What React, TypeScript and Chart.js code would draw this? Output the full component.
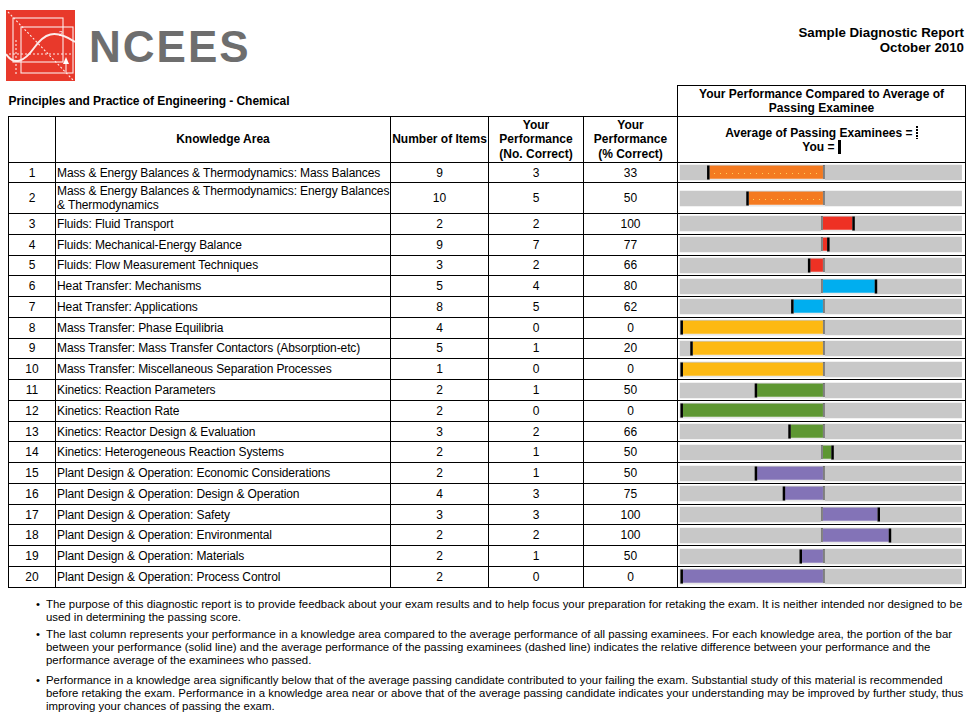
import React, { useEffect, useRef } from 'react';
import { Chart, registerables } from 'chart.js';

Chart.register(...registerables);

// ---------------- data ----------------
const ROW_NUMBERS = [1, 2, 3, 4, 5, 6, 7, 8, 9, 10, 11, 12, 13, 14, 15, 16, 17, 18, 19, 20];
const KNOWLEDGE_AREAS = [
  'Mass & Energy Balances & Thermodynamics: Mass Balances',
  'Mass & Energy Balances & Thermodynamics: Energy Balances\n& Thermodynamics',
  'Fluids: Fluid Transport',
  'Fluids: Mechanical-Energy Balance',
  'Fluids: Flow Measurement Techniques',
  'Heat Transfer: Mechanisms',
  'Heat Transfer: Applications',
  'Mass Transfer: Phase Equilibria',
  'Mass Transfer: Mass Transfer Contactors (Absorption-etc)',
  'Mass Transfer: Miscellaneous Separation Processes',
  'Kinetics: Reaction Parameters',
  'Kinetics: Reaction Rate',
  'Kinetics: Reactor Design & Evaluation',
  'Kinetics: Heterogeneous Reaction Systems',
  'Plant Design & Operation: Economic Considerations',
  'Plant Design & Operation: Design & Operation',
  'Plant Design & Operation: Safety',
  'Plant Design & Operation: Environmental',
  'Plant Design & Operation: Materials',
  'Plant Design & Operation: Process Control',
];
const NUMBER_OF_ITEMS = [9, 10, 2, 9, 3, 5, 8, 4, 5, 1, 2, 2, 3, 2, 2, 4, 3, 2, 2, 2];
const NUMBER_CORRECT = [3, 5, 2, 7, 2, 4, 5, 0, 1, 0, 1, 0, 2, 1, 1, 3, 3, 2, 1, 0];
const PERCENT_CORRECT = [33, 50, 100, 77, 66, 80, 62, 0, 20, 0, 50, 0, 66, 50, 50, 75, 100, 100, 50, 0];
// relative difference of your performance vs. average of passing examinees (average = 0)
const RELATIVE_DIFFERENCE = [-81, -53, 21, 3, -9, 37, -21, -100, -93, -100, -47, -100, -23, 6, -47, -27, 39, 47, -15, -100];
const AREA_GROUP = [0, 0, 1, 1, 1, 2, 2, 3, 3, 3, 4, 4, 4, 4, 5, 5, 5, 5, 5, 5];
const GROUP_COLORS = ['#F47A20', '#EE3124', '#00AEEF', '#FDB913', '#5E9732', '#8373B7'];
const GROUP_DOTTED = [true, false, false, false, false, false];
const AVERAGE_VALUE = 0;
const SCALE_MIN = -103.5;
const SCALE_MAX = 100;
const TRACK_RANGE: [number, number] = [-102, 99];

const FOOTNOTES = [
  [
    'The purpose of this diagnostic report is to provide feedback about your exam results and to help focus your preparation for retaking the exam. It is neither intended nor designed to be',
    'used in determining the passing score.',
  ],
  [
    'The last column represents your performance in a knowledge area compared to the average performance of all passing examinees. For each knowledge area, the portion of the bar',
    'between your performance (solid line) and the average performance of the passing examinees (dashed line) indicates the relative difference between your performance and the',
    'performance average of the examinees who passed.',
  ],
  [
    'Performance in a knowledge area significantly below that of the average passing candidate contributed to your failing the exam. Substantial study of this material is recommended',
    'before retaking the exam. Performance in a knowledge area near or above that of the average passing candidate indicates your understanding may be improved by further study, thus',
    'improving your chances of passing the exam.',
  ],
];

const FONT = '"Liberation Sans", Arial, Helvetica, sans-serif';
const ROW_HEIGHTS = [20, 31, 20.78, 20.78, 20.78, 20.78, 20.78, 20.78, 20.78, 20.78, 20.78, 20.78, 20.78, 20.78, 20.78, 20.78, 20.78, 20.78, 20.78, 20.78];

// ---------------- chart cell ----------------
function BarCell({ idx }: { idx: number }) {
  const ref = useRef<HTMLCanvasElement>(null);
  useEffect(() => {
    const diff = RELATIVE_DIFFERENCE[idx];
    const group = AREA_GROUP[idx];
    const color = GROUP_COLORS[group];
    const markers = {
      id: 'markers',
      afterDatasetsDraw(chart: any) {
        const ctx = chart.ctx;
        const xs = chart.scales.x;
        const track = chart.getDatasetMeta(1).data[0];
        const { y, height } = track.getProps(['y', 'height'], true);
        const top = y - height / 2 + 0.5;
        const bottom = y + height / 2 - 0.5;
        const xYou = xs.getPixelForValue(diff);
        const xAvg = xs.getPixelForValue(AVERAGE_VALUE);
        const dir = diff < AVERAGE_VALUE ? -1 : 1;
        ctx.save();
        if (GROUP_DOTTED[group]) {
          ctx.fillStyle = '#FFD05A';
          const a = Math.min(xYou, xAvg) + 4;
          const b = Math.max(xYou, xAvg) - 3;
          for (let px = a; px < b; px += 6) ctx.fillRect(Math.round(px), Math.round(y), 1, 1);
        }
        const ax = xAvg - dir * 1;
        ctx.lineWidth = 2;
        ctx.strokeStyle = '#ffffff';
        ctx.beginPath();
        ctx.moveTo(ax, top);
        ctx.lineTo(ax, bottom);
        ctx.stroke();
        ctx.strokeStyle = '#000000';
        ctx.setLineDash([1, 1]);
        ctx.beginPath();
        ctx.moveTo(ax, top);
        ctx.lineTo(ax, bottom);
        ctx.stroke();
        ctx.setLineDash([]);
        ctx.lineWidth = 2.5;
        ctx.strokeStyle = '#000000';
        const yx = xYou + dir * 1.2;
        ctx.beginPath();
        ctx.moveTo(yx, top);
        ctx.lineTo(yx, bottom);
        ctx.stroke();
        ctx.restore();
      },
    };
    const chart = new Chart(ref.current as HTMLCanvasElement, {
      type: 'bar',
      data: {
        labels: [KNOWLEDGE_AREAS[idx]],
        datasets: [
          {
            data: [[diff, AVERAGE_VALUE]] as any,
            backgroundColor: color,
            borderColor: '#ffffff',
            borderWidth: { top: 0, left: 0, right: 0, bottom: 1 } as any,
            borderSkipped: false,
            barThickness: 14,
            grouped: false,
          } as any,
          {
            data: [TRACK_RANGE] as any,
            backgroundColor: '#C8C8C8',
            borderWidth: 0,
            barThickness: 15,
            grouped: false,
          } as any,
        ],
      },
      options: {
        indexAxis: 'y',
        responsive: false,
        maintainAspectRatio: false,
        animation: false,
        events: [],
        layout: { padding: 0 },
        scales: {
          x: { type: 'linear', min: SCALE_MIN, max: SCALE_MAX, display: false },
          y: { type: 'category', display: false },
        },
        plugins: { legend: { display: false }, tooltip: { enabled: false } },
      },
      plugins: [markers],
    });
    return () => chart.destroy();
  }, [idx]);
  return <canvas ref={ref} width={285} height={19} style={{ display: 'block' }} />;
}

// ---------------- logo ----------------
function Logo() {
  return (
    <>
      <svg width={69} height={71} viewBox="0 0 69 71" style={{ position: 'absolute', left: 6, top: 10 }}>
        <rect width="69" height="71" fill="#E8392B" />
        <g stroke="#ffffff" fill="none" strokeWidth={1.1} opacity={0.9}>
          <rect x="7" y="8" width="50" height="44" />
          <rect x="15" y="17" width="52" height="46" />
          <path d="M0 44 C 8 56, 18 52, 28 38 S 48 18, 69 32" strokeWidth={2} />
          <line x1="2" y1="2" x2="67" y2="70" strokeDasharray="2 2" />
          <line x1="3" y1="44" x2="66" y2="44" strokeDasharray="2 2" />
          <line x1="10" y1="30" x2="10" y2="64" strokeDasharray="2 2" />
          <line x1="60" y1="62" x2="60" y2="52" />
        </g>
        <path d="M57 54 L60 47 L63 54 Z" fill="#ffffff" />
        <text x="53" y="26" fill="#ffffff" fontSize="7" fontFamily={FONT}>2</text>
      </svg>
      <div
        style={{
          position: 'absolute',
          left: 89,
          top: 25,
          fontSize: 44,
          lineHeight: '44px',
          fontWeight: 'bold',
          color: '#6E6E6E',
          letterSpacing: 2,
          fontFamily: FONT,
        }}
      >
        NCEES
      </div>
    </>
  );
}

const cellBorder = '1px solid #000';

export default function App() {
  return (
    <div
      style={{
        position: 'absolute',
        left: 0,
        top: 0,
        width: 980,
        height: 722,
        background: '#ffffff',
        fontFamily: FONT,
        color: '#000',
        overflow: 'hidden',
      }}
    >
      <Logo />
      <div
        style={{
          position: 'absolute',
          right: 16,
          top: 25,
          textAlign: 'right',
          fontWeight: 'bold',
          fontSize: 13.3,
          lineHeight: '15px',
        }}
      >
        Sample Diagnostic Report
        <br />
        October 2010
      </div>

      <table
        style={{
          position: 'absolute',
          left: 8,
          top: 85,
          borderCollapse: 'collapse',
          tableLayout: 'fixed',
          width: 957,
          fontSize: 12,
          fontFamily: FONT,
        }}
      >
        <colgroup>
          <col style={{ width: 47 }} />
          <col style={{ width: 335 }} />
          <col style={{ width: 98 }} />
          <col style={{ width: 95 }} />
          <col style={{ width: 94 }} />
          <col style={{ width: 288 }} />
        </colgroup>
        <tbody>
          <tr style={{ height: 31 }}>
            <td colSpan={5} style={{ padding: 0, fontWeight: 'bold', verticalAlign: 'middle', letterSpacing: -0.05 }}>
              Principles and Practice of Engineering - Chemical
            </td>
            <td
              style={{
                border: cellBorder,
                textAlign: 'center',
                fontWeight: 'bold',
                lineHeight: '14px',
                padding: 0,
                verticalAlign: 'middle',
              }}
            >
              Your Performance Compared to Average of
              <br />
              Passing Examinee
            </td>
          </tr>
          <tr style={{ height: 46 }}>
            {[
              [''],
              ['Knowledge Area'],
              ['Number of Items'],
              ['Your', 'Performance', '(No. Correct)'],
              ['Your', 'Performance', '(% Correct)'],
            ].map((lines, i) => (
              <td
                key={i}
                style={{
                  border: cellBorder,
                  textAlign: 'center',
                  fontWeight: 'bold',
                  lineHeight: '14.5px',
                  padding: 0,
                  verticalAlign: 'middle',
                  whiteSpace: 'nowrap',
                }}
              >
                {lines.map((l, j) => (
                  <React.Fragment key={j}>
                    {j > 0 && <br />}
                    {l}
                  </React.Fragment>
                ))}
              </td>
            ))}
            <td
              style={{
                border: cellBorder,
                textAlign: 'center',
                fontWeight: 'bold',
                lineHeight: '14px',
                padding: 0,
                verticalAlign: 'middle',
              }}
            >
              Average of Passing Examinees ={' '}
              <span
                style={{
                  display: 'inline-block',
                  width: 2,
                  height: 13,
                  verticalAlign: -2,
                  background: 'repeating-linear-gradient(to bottom, #000 0px, #000 2px, transparent 2px, transparent 3px)',
                }}
              />
              <br />
              You ={' '}
              <span style={{ display: 'inline-block', width: 3, height: 14, verticalAlign: -3, background: '#000' }} />
            </td>
          </tr>
          {ROW_NUMBERS.map((n, i) => (
            <tr key={n} style={{ height: ROW_HEIGHTS[i] }}>
              <td style={{ border: cellBorder, textAlign: 'center', padding: 0 }}>{n}</td>
              <td
                style={{
                  border: cellBorder,
                  padding: '0 0 0 1px',
                  lineHeight: '14px',
                  whiteSpace: 'pre-line',
                  letterSpacing: -0.1,
                }}
              >
                {KNOWLEDGE_AREAS[i]}
              </td>
              <td style={{ border: cellBorder, textAlign: 'center', padding: 0 }}>{NUMBER_OF_ITEMS[i]}</td>
              <td style={{ border: cellBorder, textAlign: 'center', padding: 0 }}>{NUMBER_CORRECT[i]}</td>
              <td style={{ border: cellBorder, textAlign: 'center', padding: 0 }}>{PERCENT_CORRECT[i]}</td>
              <td style={{ border: cellBorder, padding: 0, verticalAlign: 'middle' }}>
                <BarCell idx={i} />
              </td>
            </tr>
          ))}
        </tbody>
      </table>

      {FOOTNOTES.map((lines, k) => (
        <div
          key={k}
          style={{
            position: 'absolute',
            left: 46,
            top: [598, 627.5, 673.5][k],
            fontSize: 11.4,
            lineHeight: '13.4px',
            whiteSpace: 'nowrap',
          }}
        >
          <span style={{ position: 'absolute', left: -10, top: 0 }}>•</span>
          {lines.map((l, j) => (
            <React.Fragment key={j}>
              {j > 0 && <br />}
              {l}
            </React.Fragment>
          ))}
        </div>
      ))}
    </div>
  );
}
